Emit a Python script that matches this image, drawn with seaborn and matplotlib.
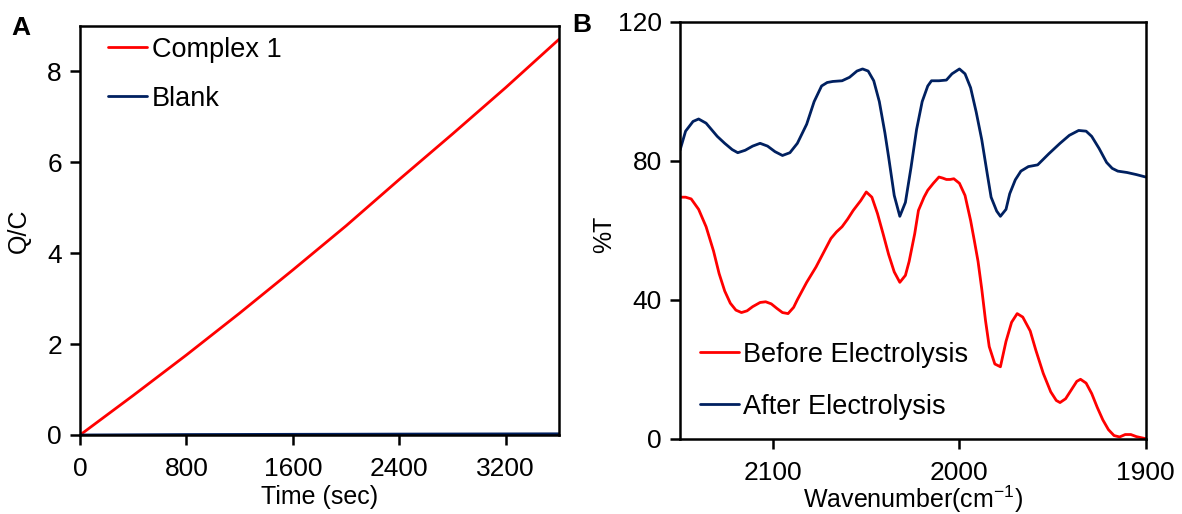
import numpy as np
import pandas as pd
import matplotlib
matplotlib.use("Agg")
import matplotlib.pyplot as plt
import seaborn as sns

# ---- Panel A data ----
time_s = [0, 400, 800, 1200, 1600, 2000, 2400, 2800, 3200, 3600]
complex1_q = [0.0, 0.87, 1.76, 2.68, 3.63, 4.60, 5.62, 6.62, 7.64, 8.70]
blank_q = [0.0, 0.005, 0.01, 0.012, 0.015, 0.017, 0.02, 0.022, 0.024, 0.026]

# ---- Panel B data ----
after_wn = [2150, 2147, 2143, 2140, 2136, 2130, 2126, 2122, 2119, 2115, 2111, 2107,
            2103, 2099, 2095, 2091, 2087, 2082, 2078, 2074, 2071, 2068, 2063, 2059,
            2055, 2052, 2049, 2046, 2043, 2040, 2038, 2035, 2032, 2029, 2026, 2023,
            2020, 2017, 2015, 2011, 2007, 2004, 2000, 1997, 1994, 1991, 1988, 1985,
            1983, 1980, 1978, 1975, 1973, 1970, 1967, 1963, 1958, 1952, 1946, 1941,
            1936, 1932, 1929, 1925, 1921, 1918, 1915, 1910, 1905, 1900]
after_t = [83.0, 88.5, 91.3, 92.0, 90.8, 87.0, 85.0, 83.2, 82.3, 83.0, 84.2, 85.0,
           84.2, 82.6, 81.5, 82.3, 85.0, 90.5, 97.0, 101.5, 102.5, 102.8, 103.0, 104.0,
           105.8, 106.4, 105.8, 103.0, 97.0, 88.0, 81.0, 70.0, 64.0, 68.0, 78.0, 89.0,
           97.0, 101.5, 103.0, 103.0, 103.2, 105.0, 106.4, 105.0, 101.0, 94.0, 86.0,
           76.0, 69.5, 65.5, 64.0, 66.0, 70.5, 74.5, 77.0, 78.3, 78.8, 82.0, 85.0,
           87.3, 88.7, 88.5, 87.0, 83.5, 79.5, 77.8, 77.0, 76.6, 76.0, 75.3]

before_wn = [2150, 2147, 2144, 2140, 2136, 2132, 2129, 2126, 2123, 2120, 2117, 2114,
             2111, 2107, 2104, 2101, 2098, 2095, 2092, 2089, 2087, 2082, 2077, 2073,
             2069, 2066, 2063, 2060, 2057, 2053, 2050, 2047, 2044, 2041, 2038, 2035,
             2032, 2029, 2027, 2024, 2022, 2019, 2017, 2014, 2011, 2009, 2007, 2005,
             2003, 2000, 1997, 1994, 1992, 1990, 1988, 1986, 1984, 1981, 1978, 1975,
             1972, 1969, 1966, 1962, 1959, 1955, 1951, 1948, 1946, 1943, 1940, 1937,
             1935, 1932, 1929, 1926, 1923, 1920, 1917, 1914, 1911, 1908, 1905, 1900]
before_t = [69.5, 69.5, 69.0, 66.0, 61.0, 54.0, 47.5, 42.5, 39.0, 37.0, 36.3, 36.8,
            38.0, 39.2, 39.4, 38.8, 37.5, 36.3, 36.0, 37.8, 40.0, 45.0, 49.4, 53.5,
            57.6, 59.5, 61.0, 63.2, 65.7, 68.5, 71.0, 69.5, 64.8, 59.0, 53.0, 48.0,
            45.0, 47.0, 51.0, 59.0, 65.7, 69.5, 71.5, 73.5, 75.3, 75.0, 74.6, 74.6,
            74.8, 73.5, 70.0, 62.8, 57.0, 51.0, 43.0, 34.0, 26.5, 21.5, 20.7, 28.0,
            33.5, 36.0, 35.0, 31.0, 25.5, 18.8, 13.5, 11.0, 10.4, 11.5, 14.0, 16.5,
            17.1, 16.0, 13.0, 9.0, 5.4, 2.6, 0.9, 0.5, 1.2, 1.2, 0.6, 0.0]

RED = "#FF0000"
NAVY = "#002060"

sns.set_theme(style="white")
plt.rcParams['font.family'] = ['Liberation Sans', 'DejaVu Sans']
plt.rcParams['mathtext.fontset'] = 'custom'
plt.rcParams['mathtext.rm'] = 'Liberation Sans'
plt.rcParams['text.color'] = 'black'
plt.rcParams['axes.labelcolor'] = 'black'

FS = 18
FS_TICK = 19
FS_LEG = 19.5
LW = 2.0

dfA = pd.DataFrame({
    "t": time_s * 2,
    "q": complex1_q + blank_q,
    "series": ["Complex 1"] * len(time_s) + ["Blank"] * len(time_s),
})
dfB = pd.DataFrame({
    "wn": before_wn + after_wn,
    "T": before_t + after_t,
    "series": ["Before Electrolysis"] * len(before_wn) + ["After Electrolysis"] * len(after_wn),
})

fig = plt.figure(figsize=(11.82, 5.14), dpi=100)
axA = fig.add_axes([0.0677, 0.1537, 0.4052, 0.7963])
axB = fig.add_axes([0.5753, 0.1465, 0.3940, 0.8113])

sns.lineplot(data=dfA, x="t", y="q", hue="series", palette=[RED, NAVY],
             ax=axA, linewidth=LW, sort=False)
sns.lineplot(data=dfB, x="wn", y="T", hue="series", palette=[RED, NAVY],
             ax=axB, linewidth=LW, sort=False)

for ax in (axA, axB):
    for sp in ax.spines.values():
        sp.set_visible(True)
        sp.set_color("black")
        sp.set_linewidth(1.8)
    ax.tick_params(axis="both", which="major", direction="out", length=7,
                   width=1.8, color="black", labelsize=FS_TICK, labelcolor="black",
                   left=True, bottom=True, top=False, right=False)
    ax.tick_params(axis="x", pad=9)
    ax.tick_params(axis="y", pad=6)
    ax.grid(False)

axA.set_xlim(0, 3600)
axA.set_ylim(0, 9)
axA.set_xticks([0, 800, 1600, 2400, 3200])
axA.set_yticks([0, 2, 4, 6, 8])
axA.set_xlabel("Time (sec)", fontsize=FS, color="black")
axA.set_ylabel("Q/C", fontsize=FS, color="black")
axA.xaxis.set_label_coords(0.5, -0.122)
axA.yaxis.set_label_coords(-0.102, 0.5)

axB.set_xlim(2150, 1900)
axB.set_ylim(0, 120)
axB.set_xticks([2100, 2000, 1900])
axB.set_yticks([0, 40, 80, 120])
axB.set_xlabel("Wavenumber(cm$^{-1}$)", fontsize=FS, color="black")
axB.set_ylabel("%T", fontsize=FS, color="black")
axB.xaxis.set_label_coords(0.5, -0.108)
axB.yaxis.set_label_coords(-0.137, 0.49)

legA = axA.legend(loc="upper left", frameon=False, fontsize=FS_LEG, handlelength=1.45,
                  handletextpad=0.18, labelspacing=0.85, borderaxespad=0.0,
                  bbox_to_anchor=(0.035, 1.0))
legB = axB.legend(loc="lower left", frameon=False, fontsize=FS_LEG, handlelength=1.45,
                  handletextpad=0.12, labelspacing=0.95, borderaxespad=0.0,
                  bbox_to_anchor=(0.02, 0.02))
for leg in (legA, legB):
    for line in leg.get_lines():
        line.set_linewidth(LW)
    for t in leg.get_texts():
        t.set_color("black")

fig.text(0.010, 0.945, "A", fontsize=FS + 1, fontweight="bold", color="black", va="center")
fig.text(0.484, 0.952, "B", fontsize=FS + 1, fontweight="bold", color="black", va="center")

fig.savefig("out.png", dpi=100)
